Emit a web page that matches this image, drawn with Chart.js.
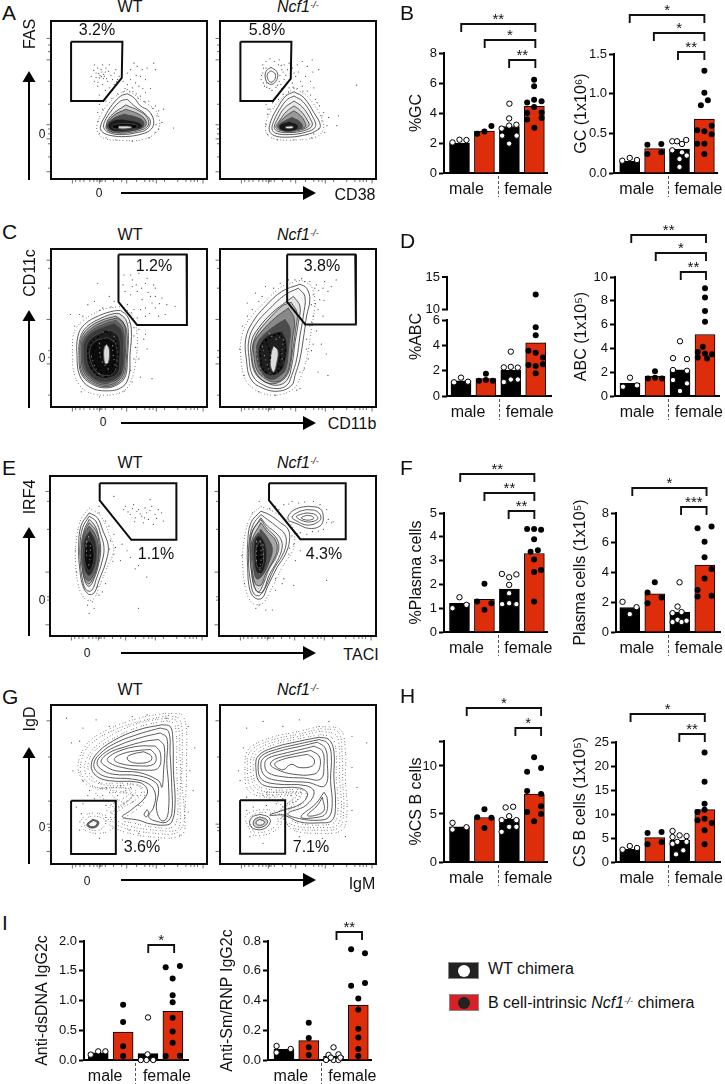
<!DOCTYPE html>
<html><head><meta charset="utf-8">
<script src="https://cdn.jsdelivr.net/npm/chart.js@4"></script>
<style>
html,body{margin:0;padding:0;background:#fff;overflow:hidden}
#page{position:relative;width:725px;height:1084px;font-family:"Liberation Sans",Arial,sans-serif;color:#111}
canvas{position:absolute}
.t{position:absolute;white-space:nowrap;line-height:1;transform:translate(-50%,-50%)}
.l{position:absolute;white-space:nowrap;line-height:1;font-size:21px}
sup{font-size:60%;line-height:0;vertical-align:baseline;position:relative;top:-.45em}
svg{position:absolute;left:0;top:0}
</style></head><body><div id="page"><svg id="arrows" width="725" height="1084"></svg></div>
<script>
/* ---------- bar charts: data ---------- */
const groupLabels=['male','female'];
const gcPctBars=[2.0,2.8,3.1,4.45];
const gcPctWT=[[-.28,2.04],[0,2.22],[.28,2.2],[2,4.62],[1.99,3.64],[1.69,2.96],[1.99,3.16],[2.28,3.22],[1.71,2.49],[2.29,2.49],[1.99,1.96]];
const gcPctKO=[[.71,2.62],[1,2.76],[1.28,3.13],[2.99,6.22],[2.99,5.78],[2.99,4.89],[3.29,4.78],[2.71,4.7],[2.71,3.56],[2.99,4.4],[3.29,4.04],[3.29,3.67],[2.71,4.0],[3,3.02]];
const gcPctBrackets=[[0.07,3.04,9.96,'**'],[1.01,3.04,8.84,'*'],[1.99,3.04,7.56,'**']];
const gcNumBars=[.147,.307,.30,.68];
const gcNumWT=[[-.3,.155],[0,.19],[.29,.164],[1.71,.4],[1.9,.4],[2.27,.416],[2.1,.366],[1.71,.286],[2.1,.26],[2,.176],[2,.076],[2.29,.22]];
const gcNumKO=[[.71,.357],[1.27,.366],[.71,.24],[1.27,.26],[3,1.29],[3,1.01],[3.14,.916],[2.86,.853],[2.71,.538],[3.29,.597],[3,.525],[3.29,.49],[2.71,.37],[3,.37],[3,.24]];
const gcNumBrackets=[[0,3,1.987,'*'],[.97,3,1.76,'*'],[1.94,3,1.525,'**']];
const abcPctBars=[1.2,1.37,2.03,4.2];
const abcPctWT=[[-.28,1.08],[0,1.45],[.28,1.13],[2,3.5],[1.72,2.26],[2,2.3],[2.28,2.24],[1.72,1.1],[2,1.3],[2.28,1.3]];
const abcPctKO=[[.72,1.2],[1,1.76],[1,1.26],[1.28,1.2],[3,5.42],[3,4.79],[2.71,3.58],[3,3.42],[3.29,3.03],[2.71,2.45],[3,2.37],[3.29,2.5],[3,1.79]];
const abcPctKOUpper=[[3,12.3]];
const abcNumBars=[1.06,1.68,2.2,5.17];
const abcNumWT=[[-.28,.78],[0,1.54],[.28,.89],[2,4.6],[1.72,3.18],[2.28,3.1],[1.72,2.18],[1.72,1.34],[2.28,2.12],[2.28,1.06],[2,.42]];
const abcNumKO=[[.72,1.48],[1,2.07],[1,1.54],[1.28,1.48],[3,9.05],[3,8.27],[3,7.15],[3,6.23],[2.91,4.13],[2.71,3.7],[3,3.58],[3.28,3.5],[2.71,3.24],[3.08,3.16]];
const abcNumBrackets=[[.05,3.04,13.5,'**'],[1.03,3.04,12.0,'*'],[2.03,3.04,10.42,'**']];
const pcPctBars=[1.2,1.37,1.8,3.3];
const pcPctWT=[[-.28,1],[0,1.46],[.28,1.14],[1.7,2.44],[2.28,2.42],[1.99,2.3],[1.99,1.98],[1.71,1.17],[1.99,1.21],[2.28,1.17],[1.99,1.63]];
const pcPctKO=[[.71,1.28],[1,2.03],[1,.93],[1.28,1.21],[2.71,4.33],[2.99,4.33],[3.27,4.3],[2.99,3.9],[3.14,3.44],[2.85,3.37],[2.99,3.05],[3.27,2.6],[2.99,2.52],[2.99,1.28]];
const pcPctBrackets=[[.03,3,6.62,'**'],[1,3,5.86,'**'],[1.97,3,5.08,'**']];
const pcNumBars=[1.65,2.56,1.34,4.5];
const pcNumWT=[[-.29,2.03],[0,1.2],[.27,1.67],[1.99,3.34],[1.91,1.71],[1.71,1.27],[2.07,1.34],[1.71,.67],[1.91,.82],[2.07,.67],[2.27,.76]];
const pcNumKO=[[.71,2.65],[1,3.34],[.71,1.94],[1.27,2.32],[2.71,6.97],[3.27,7.1],[2.99,6.06],[2.99,5.03],[2.99,3.6],[3.27,4.23],[2.71,2.83],[2.71,2.38],[3.27,2.43]];
const pcNumBrackets=[[.1,3.07,9.69,'*'],[2.05,3.07,8.4,'***']];
const csPctBars=[3.66,4.63,4.46,7.07];
const csPctWT=[[-.28,4.08],[-.28,3.38],[.28,3.62],[1.85,5.68],[2.15,5.75],[1.99,4.77],[1.69,4.36],[2.28,4.36],[1.69,3.14],[1.99,3.66],[2.28,3.66]];
const csPctKO=[[.71,4.67],[1,5.5],[1.28,4.6],[1,3.55],[2.99,10.9],[2.71,9.4],[3.27,9.8],[2.71,7.4],[3.27,7.07],[3.27,5.8],[2.71,5.2],[3.27,5],[2.99,4.25]];
const csPctBrackets=[[.29,3.27,16.03,'*'],[2.24,3.27,13.97,'*']];
const csNumBars=[2.64,5.07,4.5,10.9];
const csNumWT=[[-.29,2.57],[0,3.33],[.29,2.92],[1.71,6.46],[1.71,5.2],[1.99,5.55],[2.27,5.4],[1.71,3.8],[1.9,4.2],[2.27,4.2],[2.14,2.43],[1.85,1.6]];
const csNumKO=[[.71,6.04],[1.27,6.25],[.71,3.68],[1.27,4.17],[2.99,22.8],[2.99,16.7],[2.99,12.15],[2.71,10.4],[2.99,10.9],[2.71,8.7],[2.99,9],[3.28,8.1],[2.99,6.6],[2.99,3.68]];
const csNumBrackets=[[.03,3,30.9,'*'],[1.98,3,26.7,'**']];
const dsdnaBars=[.12,.47,.106,.82];
const dsdnaWT=[[-.3,.09],[0,.145],[.29,.145],[2,.715],[1.71,0],[1.98,.095],[1.94,0],[2.21,0]];
const dsdnaKO=[[1,.93],[1,.64],[1,.23],[1,.067],[2.71,1.56],[3.28,1.58],[2.99,1.37],[2.99,1.09],[2.99,.97],[2.99,.71],[2.99,.48],[2.99,.29],[2.71,.067],[3.28,.073]];
const dsdnaBrackets=[[2.01,3.05,1.94,'*']];
const smrnpBars=[.072,.13,.027,.37];
const smrnpWT=[[-.3,.094],[-.3,.05],[.27,.074],[2,.085],[1.8,.034],[2.2,.038],[1.7,0],[2,0],[2.2,0],[1.89,.016],[2.28,.016]];
const smrnpKO=[[1,.25],[1,.148],[1,.085],[1,.034],[2.71,.744],[3.27,.717],[3.27,.518],[2.71,.5],[3,.413],[3,.34],[3,.21],[3,.152],[3,.074],[3,.027]];
const smrnpBrackets=[[2.12,3.15,.863,'**']];

/* ---------- flow plots: data (channel units) ---------- */
const fasWtGate=[214,120,370,120,368,230,312,300,216,300,214,120];
const fasWtRings=[[385,278,405,290,425,315,450,330,465,360,458,385,430,400,380,408,335,405,310,395,303,380,315,350,340,310,365,285,385,278],
[385,295,410,318,440,340,455,362,445,385,415,396,370,402,335,398,315,385,315,365,340,325,365,300,385,295],
[380,312,420,330,445,350,448,375,420,390,370,398,330,392,320,378,335,345,380,312],
[380,325,420,340,440,358,440,376,410,388,365,395,330,390,322,375,342,345,380,325],
[375,340,420,352,435,365,430,380,400,390,360,392,330,385,325,372,345,352,375,340],
[370,355,420,365,430,378,400,388,355,392,330,385,328,370,345,358,370,355],
[370,368,410,372,415,380,395,385,355,385,338,380,345,372,370,368],
[358,376,395,377,398,382,360,384,358,376]];
const fasWtShades=[0,.04,.12,.3,.5,.65,.75,-.85];
const fasWtDots=[285,190,295,200,310,190,275,225,290,215,305,205,320,200,330,190,345,215,300,230,315,225,325,240,340,235,350,205,285,240,295,255,310,250,330,260,345,250,355,235,360,225,372,240,385,250,400,260,395,235,410,245,420,255,405,185,415,195,430,205,445,200,465,185,470,205,425,225,440,235,385,215,395,205,450,300,470,315,480,330,475,345,490,365,480,385,495,325,470,395,525,382,440,275,425,285,300,310,310,325,295,335,320,300,302,222,312,232,318,212,290,228,308,212,378,262,392,272,412,278,432,262,455,262,298,216,306,226,313,219,322,232,296,243,335,222,328,210,283,207,352,242,340,268,318,268,300,282,412,222,402,272,418,292,438,302,462,322,458,342,472,372,452,412,400,422,350,418,320,412,300,398,296,362,338,292,355,278,372,272];
const fasWtHalos=[[385,265,425,295,475,335,480,385,440,415,370,420,310,412,292,385,305,340,345,290,385,265]];
const fasKoGate=[722,120,877,120,875,232,821,300,723,300,722,120];
const fasKoRings=[[815,198,832,210,835,228,822,248,805,245,797,225,802,207,815,198],[815,208,828,218,826,235,815,243,806,235,804,218,815,208],
[885,272,915,290,945,335,965,375,950,392,910,405,860,410,825,405,810,390,815,360,835,320,860,285,885,272],
[885,285,912,302,940,345,950,378,920,395,870,402,830,398,818,385,825,358,845,320,865,295,885,285],
[885,300,910,318,932,350,940,375,915,390,870,396,835,392,825,380,835,355,855,322,885,300],
[885,315,905,330,925,358,930,375,905,388,870,392,838,388,830,378,842,358,862,332,885,315],
[885,330,905,345,918,365,920,378,900,385,870,390,840,385,835,375,850,355,868,340,885,330],
[880,350,905,365,910,380,890,388,860,390,840,382,840,372,858,360,880,350],
[870,362,895,372,895,385,865,392,842,385,842,372,870,362],
[860,377,882,377,880,383,860,383,860,377]];
const fasKoShades=[0,0,0,.03,.06,.12,.25,.5,.7,-.9];
const fasKoDots=[790,190,800,180,812,172,825,180,840,175,855,190,865,205,790,215,785,235,795,255,810,262,830,258,845,250,855,235,848,205,842,222,860,222,870,185,880,200,895,190,910,180,925,195,940,175,960,205,890,225,905,240,920,225,935,240,880,245,895,262,910,255,925,270,945,260,950,295,962,315,975,335,990,350,985,375,1020,345,1015,375,1075,252,800,310,812,325,805,340,820,305,960,385,970,360,945,400,800,200,802,245,848,262,870,260,885,215,792,200,786,222,838,190,846,192,852,212,840,240,835,252,818,268,802,258,792,245,868,272,882,258,912,270,935,282,955,305,970,345,978,395,938,412,885,418,835,418,805,402,800,372,806,325,838,295,852,280,898,212,942,212];
const fasKoHalos=[[885,260,930,290,975,370,960,405,900,418,825,415,800,395,805,350,840,300,885,260]];
const cdWtGate=[358,113,565,113,566,327,415,327,358,257,358,113];
const cdWtRings=[[365,283,385,300,397,340,393,420,390,480,370,515,320,527,270,515,240,480,232,420,235,360,255,325,300,298,345,284,365,283],
[360,292,380,310,388,350,385,430,380,480,360,505,320,518,275,505,245,475,238,420,242,365,262,332,305,306,345,292,360,292],
[350,300,372,318,384,355,382,430,376,478,356,503,320,514,278,502,248,473,241,420,245,368,266,337,308,312,350,300],
[355,305,375,325,380,360,378,430,372,475,352,500,320,510,280,498,252,470,245,420,248,372,270,342,310,318,355,305],
[350,313,370,335,376,380,373,450,360,487,335,500,318,505,283,494,256,466,248,418,252,374,274,346,312,325,350,313],
[345,322,368,345,372,400,368,470,345,492,318,500,285,490,260,462,252,415,256,375,278,350,315,332,345,322],
[335,342,360,365,362,440,358,470,340,485,315,490,290,480,268,455,260,410,265,380,285,360,315,348,335,342],
[325,365,350,385,352,450,340,475,315,480,290,468,275,440,270,405,285,378,325,365],
[322,385,330,400,328,440,318,445,313,420,315,395,322,385]];
const cdWtShades=[0,.12,.18,.25,.3,.4,.5,.55,-.85];
const cdWtDots=[375,175,400,190,420,170,440,200,415,225,395,235,385,265,405,280,430,250,455,240,470,215,490,245,505,265,470,275,530,270,440,300,480,300,295,200,265,265,285,255,240,295,212,295,330,240,310,275,345,255,420,340,405,360,435,370,410,395,445,400,420,430,395,465,460,490,425,485,440,355,400,210,378,225,372,205,445,185,460,260,415,305,440,275,390,320,470,240,500,295,395,175,412,205,428,215,448,228,465,205,482,262,425,280,452,292,398,290,405,335,225,330,250,300,300,282,335,272,405,430,400,500,375,528,300,545,245,530];
const cdWtHalos=[[370,270,400,300,415,360,410,440,395,500,370,530,310,540,255,525,225,480,218,400,225,345,255,310,310,280,370,270]];
const cdWtDark=[[320,345,350,375,355,440,340,470,310,485,280,465,265,420,272,385,300,360,320,345],[310,370,335,385,345,430,335,460,310,470,290,450,280,415,290,385,310,370]];
const cdWtLight=[[300,380,305,430,330,465],[345,360,340,400,348,450],[275,420,295,470,320,490]];
const cdKoGate=[866,113,1073,113,1075,325,921,325,866,257,866,113];
const cdKoRings=[[905,203,925,215,935,250,925,300,918,350,905,430,890,480,880,510,840,528,790,518,755,490,742,430,740,370,760,320,800,270,850,225,905,203],
[900,215,920,240,915,300,905,360,895,430,880,480,865,510,835,520,795,510,762,482,750,425,750,370,770,325,810,280,860,235,900,215],
[885,240,905,270,900,320,890,380,880,450,865,495,835,510,800,500,770,475,757,425,758,375,780,335,820,290,865,255,885,240],
[878,258,896,290,891,345,882,410,870,470,848,497,815,505,785,490,763,450,760,400,772,358,805,315,850,270,878,258],
[870,275,888,310,882,370,875,440,858,485,830,500,800,490,775,465,765,420,766,380,790,345,830,305,870,275],
[860,310,875,340,870,400,862,460,845,480,820,492,795,480,778,450,772,410,778,378,800,352,835,325,860,310],
[850,345,865,380,860,440,845,470,815,480,790,465,780,430,782,390,805,360,850,345],
[825,390,838,405,835,440,825,470,815,450,818,410,825,390]];
const cdKoShades=[0,.03,.08,.15,.3,.45,.6,-.85];
const cdKoDots=[800,210,770,230,780,255,825,215,845,200,870,190,910,185,935,195,955,205,980,195,1015,190,945,235,965,250,990,225,960,280,945,300,935,330,925,370,945,385,970,385,985,415,930,430,960,470,990,480,905,470,905,520,760,280,745,300,730,330,940,265,975,300,950,215,925,400,890,190,1000,210,920,195,962,222,975,215,952,262,978,252,940,318,955,345,940,405,918,460,895,525,830,540,780,530,735,480,722,400,745,260,790,240];
const cdKoHalos=[[910,190,940,210,950,260,940,340,925,430,905,490,880,525,830,540,780,530,740,495,725,420,728,360,750,310,800,255,850,210,910,190]];
const cdKoDark=[[840,350,860,390,850,450,825,475,795,465,785,420,790,385,840,350],[800,370,815,420,805,460],[850,395,842,440,835,470]];
const cdKoLight=[[790,390,800,430,815,475],[855,370,850,420,858,455],[770,400,778,440,795,490],[810,350,830,370,850,360]];
const irfWtGate=[302,95,535,95,535,267,398,267,302,147,302,95];
const irfWtRings=[[270,185,295,200,312,240,328,285,322,330,300,390,285,428,268,432,250,405,240,340,238,290,245,225,270,185],
[270,195,290,210,305,250,315,290,310,330,292,385,278,420,262,420,250,390,243,330,242,285,250,230,270,195],
[270,205,288,225,300,260,305,295,300,335,285,385,270,408,258,395,248,345,246,285,254,240,270,205],
[270,215,290,238,300,275,300,320,288,370,270,400,256,385,248,335,247,285,256,242,270,215],
[270,225,288,250,298,290,295,340,280,380,268,392,256,375,250,330,250,280,258,245,270,225],
[272,240,288,270,292,320,280,365,268,375,256,355,252,310,256,265,272,240],
[270,262,283,290,283,335,270,360,258,340,256,295,270,262]];
const irfWtShades=[0,.04,.1,.2,.4,.6,.7];
const irfWtDots=[380,165,405,160,420,175,440,170,460,165,480,175,395,190,410,200,430,195,450,205,470,190,490,185,495,210,435,215,415,180,445,185,465,220,375,175,345,135,300,165,330,225,345,250,335,270,350,290,370,280,385,300,345,310,365,330,395,320,420,345,445,380,410,355,300,435,280,455,265,465,285,475,270,490,420,475,295,410,320,400,310,425,455,145,402,172,425,188,438,200,455,178,475,202,408,212,388,182,332,295,342,332,228,300,232,365,300,185,320,210];
const irfWtHalos=[[270,170,305,195,335,260,345,300,325,350,300,410,285,445,262,450,240,415,228,330,232,260,245,205,270,170]];
const irfWtDark=[];
const irfWtLight=[[268,255,274,300,268,350],[262,270,262,320]];
const irfKoGate=[810,95,1043,95,1043,265,905,265,810,147,810,95];
const irfKoRings=[[785,180,810,190,845,215,868,235,872,270,860,310,835,350,805,410,790,443,770,445,752,420,745,350,745,280,755,215,785,180],
[785,190,805,205,835,228,858,250,862,280,850,315,825,355,800,410,782,435,765,432,755,400,748,340,750,270,762,220,785,190],
[785,200,805,225,830,245,848,270,848,300,830,340,810,375,790,425,770,420,758,370,752,310,756,250,785,200],
[785,205,806,235,830,258,840,285,832,318,810,355,795,395,778,425,764,405,755,345,754,285,760,240,785,205],
[785,215,808,245,828,265,835,295,820,335,800,370,785,405,768,400,758,340,758,270,785,215],
[785,235,808,265,820,295,810,335,790,375,772,385,762,340,760,275,785,235],
[782,250,800,285,800,340,785,370,770,360,764,310,768,265,782,250],
[782,270,792,300,790,345,775,350,770,300,782,270],
[930,165,965,172,975,200,965,225,930,232,895,218,868,205,875,185,900,170,930,165],
[925,175,955,180,968,200,955,215,925,222,895,210,880,198,900,182,925,175],
[925,185,950,190,958,203,940,212,915,210,893,197,905,190,925,185],
[925,192,942,196,945,203,925,207,908,200,925,192]];
const irfKoShades=[0,.02,.04,.08,.25,.5,.65,.7,0,0,0,0];
const irfKoDots=[830,165,855,160,880,150,900,155,945,150,985,175,1000,215,985,215,960,240,925,250,905,245,880,255,885,280,870,310,905,300,890,330,855,385,830,385,850,400,885,405,830,420,780,465,770,475,800,480,820,480,985,390,780,150,760,185,840,175,965,160,975,235,870,158,918,152,990,205,1005,212,942,242,895,248,872,292,728,315,735,400,812,172];
const irfKoHalos=[[785,165,830,185,880,225,885,290,850,350,815,420,790,460,760,460,740,420,730,340,735,260,755,195,785,165]];
const irfKoDark=[];
const irfKoLight=[[780,240,786,310,780,375],[772,270,772,340],[792,280,792,330]];
const igdWtGate=[214,391,350,391,350,553,214,553,214,391];
const igdWtRings=[[490,160,515,165,523,200,525,300,530,400,520,455,500,465,450,460,420,450,370,440,395,420,440,380,445,355,420,335,330,330,290,315,275,285,290,250,340,210,420,175,490,160],
[485,170,510,180,515,250,520,350,520,430,505,455,480,455,450,440,465,410,470,370,450,340,400,325,330,320,295,305,283,280,300,250,350,215,430,185,485,170],
[485,185,505,200,505,280,510,340,510,420,500,450,485,448,473,410,480,360,470,335,420,315,340,310,305,295,293,275,310,250,360,222,430,198,485,185],
[480,205,497,225,495,300,490,350,480,330,420,305,350,300,318,285,305,270,330,245,375,228,440,210,480,205],
[470,225,485,245,480,290,440,298,370,290,330,275,325,262,360,240,420,225,470,225],
[455,235,472,255,465,280,420,285,365,278,345,265,370,248,420,238,455,235],
[435,242,458,255,455,270,420,277,390,270,385,258,405,248,435,242],
[445,418,450,428,442,440,436,432,445,418],
[280,447,298,455,292,470,272,473,262,463,280,447],[282,451,293,457,288,467,274,469,267,462,282,451]];
const igdWtShades=[0,0,0,0,0,0,0,0,.6,-.95];
const igdWtHalos=[[500,140,535,150,545,250,545,400,540,475,490,482,380,465,345,440,360,420,425,375,420,345,330,345,270,325,255,285,280,235,340,190,420,155,500,140],
[500,125,555,135,565,260,560,420,550,495,450,500,360,480,320,450,330,410,390,370,340,360,260,340,235,285,265,215,335,170,420,140,500,125],
[505,148,530,160,535,300,538,430,525,470,470,472,400,458,370,450,410,420,435,395,430,350,380,338,310,338,278,320,265,285,285,240,345,200,425,165,505,148],
[510,132,545,145,552,240,550,330,558,450,535,488,470,490,370,472,335,445,350,415,400,378,380,352,290,350,245,310,248,260,270,222,335,180,430,148,510,132],
[300,352,360,352,410,360,395,385,350,415,330,395,290,370,300,352],
[330,365,400,372,375,395,345,380,330,365],
[240,455,262,432,300,430,330,450,340,475,300,490,255,480,240,455],
[252,458,268,440,300,440,320,455,300,480,262,475,252,458]];
const igdWtDots=[200,140,250,170,215,215,290,145,330,165,400,135,445,130,505,140,570,165,590,230,575,300,585,360,570,425,545,495,480,510,420,490,370,510,390,480,245,430,230,410,250,400,320,405,335,425,240,480,300,505,270,360,250,330,220,300,240,210,355,375,380,360,400,395,375,400,420,405,345,395,310,375,285,385,265,375,415,375,395,350,365,345,320,350];
const igdKoGate=[720,389,857,389,857,552,720,552,720,389];
const igdKoRings=[[960,198,990,205,1005,240,1005,320,1010,400,1000,450,960,458,900,455,855,435,810,435,850,420,905,400,925,370,900,352,820,350,780,335,768,290,775,255,820,230,900,210,960,198],
[960,205,985,215,997,250,995,330,1000,400,990,440,960,450,900,445,865,430,920,405,945,365,920,345,830,340,785,325,775,285,785,255,830,235,900,218,960,205],
[955,213,978,230,985,270,978,345,925,335,840,330,795,315,783,280,795,258,840,240,905,225,955,213],
[945,225,970,240,975,280,965,325,915,322,850,318,805,305,795,280,805,262,850,248,905,235,945,225],
[935,238,960,255,962,290,945,310,880,310,830,295,812,280,825,265,870,252,935,238],
[925,250,945,265,940,285,900,290,875,280,850,297,825,280,850,265,895,255,925,250],
[975,365,985,385,980,430,950,442,905,440,950,400,975,365],[970,380,975,420,950,435,925,435,955,405,970,380],
[780,432,805,440,812,455,795,475,768,478,750,465,755,442,780,432],[780,440,800,447,803,458,790,470,770,472,760,462,765,447,780,440],[780,448,793,453,793,460,782,465,770,462,770,453,780,448]];
const igdKoShades=[0,0,0,0,0,0,0,0,0,.2,-.7];
const igdKoHalos=[[960,180,1010,190,1022,240,1022,320,1028,410,1015,465,960,472,890,468,850,445,840,420,900,385,905,365,815,365,765,350,752,290,760,245,815,215,900,195,960,180],
[960,165,1025,175,1040,240,1040,330,1045,420,1030,480,950,490,880,480,860,455,850,415,880,385,880,375,800,380,745,360,735,290,745,235,810,200,900,180,960,165],
[965,190,1000,200,1012,245,1012,320,1018,400,1008,455,960,465,900,460,870,445,860,425,915,395,915,360,820,358,770,342,760,290,768,250,818,222,900,202,965,190],
[965,172,1018,182,1030,250,1032,340,1035,415,1022,472,955,480,880,474,855,450,845,418,890,380,890,370,805,372,755,355,742,290,752,240,812,208,900,188,965,172],
[800,365,860,365,900,370,885,400,860,415,835,395,810,385,800,365],
[745,470,735,440,770,420,830,425,845,460,810,490,760,495,745,470],
[755,470,748,445,775,428,825,432,835,458,805,482,765,487,755,470]];
const igdKoDots=[740,170,790,150,850,165,900,145,990,150,1060,195,1105,215,1060,290,1075,350,1060,420,1040,500,970,505,900,500,760,410,740,420,800,405,830,400,750,500,790,520,740,380,720,330,715,300,730,230,875,375,905,365,880,395,850,385,820,375,790,375];
const xTicksChan=[65,75,88,100,118,130,140,147,150,155,165,190,215,230,260,285,300,310,320,345,385,410,425,435,445,462];
const xTicksMajor=[65,147,230,320,462];
const yTicksA=[53,73,93,118,183,253,315,328,343,358,373,413,458];
const yTicksC=[34,59,119,214,309,329,349,444];
const yTicksE=[47,77,162,292,367,377,452];
const yTicksG=[48,158,292,362,372,382,445];

/* ---------- helpers ---------- */
const page=document.getElementById('page');
const RED='#dd2d0b';
const SPECKLE=[[.8,1.9,.8,3.1,.8,2.3],[.8,2.7,.8,1.6,.8,3.7],[.8,1.5,.8,2.4,.8,4.1],[.8,3.3,.8,2.1,.8,1.7]];
function xy(a){return a.map(p=>({x:p[0],y:p[1]}));}
function flat(a){const o=[];for(let i=0;i<a.length;i+=2)o.push({x:a[i],y:a[i+1]});return o;}
function addCanvas(l,t,w,h){const c=document.createElement('canvas');c.width=w;c.height=h;c.style.left=l+'px';c.style.top=t+'px';c.style.width=w+'px';c.style.height=h+'px';page.appendChild(c);return c;}
function txt(s,x,y,size,extra){const d=document.createElement('div');d.className='t';d.innerHTML=s;d.style.left=x+'px';d.style.top=y+'px';d.style.fontSize=(size||16)+'px';if(extra)d.style.transform=extra;page.appendChild(d);}

const ringFill={id:'ringFill',beforeDatasetDraw(chart,args){
  const ds=chart.data.datasets[args.index];if(!ds.ringShade)return;
  const meta=args.meta,ctx=chart.ctx;meta.dataset.updateControlPoints(chart.chartArea);
  ctx.save();ctx.beginPath();meta.dataset.path(ctx);ctx.closePath();
  ctx.fillStyle=ds.ringShade>0?`rgba(0,0,0,${ds.ringShade})`:`rgba(255,255,255,${-ds.ringShade})`;ctx.fill();ctx.restore();
}};
const flowFrame={id:'flowFrame',afterDatasetsDraw(chart,a,o){
  const {ctx,chartArea:c,scales:{x,y}}=chart;ctx.save();
  ctx.strokeStyle='#333';ctx.lineWidth=.7;ctx.beginPath();
  o.xTicks.forEach(t=>{const p=x.getPixelForValue(x.min+t),len=o.xMajor.includes(t)?3.5:2;ctx.moveTo(p,c.bottom);ctx.lineTo(p,c.bottom+len+1);});
  o.yTicks.forEach((t,i)=>{const p=y.getPixelForValue(y.min+t),len=i%3==0?3.5:2;ctx.moveTo(c.left,p);ctx.lineTo(c.left-len-1,p);});
  ctx.stroke();ctx.strokeStyle='#0c0c0c';ctx.lineWidth=2;ctx.strokeRect(c.left,c.top,c.right-c.left,c.bottom-c.top);ctx.restore();
}};
function flowChart(l,t,w,h,x0,y0,gate,rings,shades,dots,halos,yTicks,dark,light){
  const c=addCanvas(l-8,t-2,w+10,h+10);const ds=[];
  (halos||[]).forEach((r,i)=>ds.push({type:'scatter',showLine:true,tension:.35,data:flat(r),pointRadius:0,borderColor:'#333',borderWidth:.8,borderDash:SPECKLE[i%4],order:300-i}));
  ds.push({type:'scatter',data:flat(dots),pointRadius:.6,pointBorderWidth:0,backgroundColor:'#444',order:250});
  rings.forEach((r,i)=>ds.push({type:'scatter',showLine:true,tension:.4,data:flat(r),pointRadius:0,borderColor:'#4a4a4a',borderWidth:.9,ringShade:shades[i],order:200-i}));
  (dark||[]).forEach((r,i)=>ds.push({type:'scatter',showLine:true,tension:.4,data:flat(r),pointRadius:0,borderColor:'rgba(0,0,0,.85)',borderWidth:1.6,borderDash:[2.5,2,1.5,3],order:50-i}));
  (light||[]).forEach((r,i)=>ds.push({type:'scatter',showLine:true,tension:.4,data:flat(r),pointRadius:0,borderColor:'rgba(200,200,200,.6)',borderWidth:1.1,borderDash:[1.5,3,1,4],order:30-i}));
  ds.push({type:'scatter',showLine:true,tension:0,data:flat(gate),pointRadius:0,borderColor:'#0c0c0c',borderWidth:2,order:1});
  new Chart(c,{type:'scatter',data:{datasets:ds},plugins:[ringFill,flowFrame],options:{responsive:false,animation:false,devicePixelRatio:1,
    layout:{padding:{left:8,top:2,right:2,bottom:8}},
    scales:{x:{type:'linear',display:false,min:x0,max:x0+w*3},y:{type:'linear',display:false,min:y0,max:y0+h*3,reverse:true}},
    plugins:{legend:{display:false},tooltip:{enabled:false},flowFrame:{xTicks:xTicksChan,xMajor:xTicksMajor,yTicks:yTicks}}}});
}
const barExtras={id:'barExtras',afterDatasetsDraw(chart,a,o){
  const {ctx,chartArea:c,scales:{x,y}}=chart;ctx.save();
  ctx.strokeStyle='#555';ctx.lineWidth=1;ctx.setLineDash([3,2]);ctx.beginPath();
  const dx=Math.round(x.getPixelForValue(o.divider))+.5;ctx.moveTo(dx,c.bottom+3);ctx.lineTo(dx,c.bottom+24);ctx.stroke();ctx.setLineDash([]);
  ctx.strokeStyle='#111';ctx.lineWidth=1.9;ctx.fillStyle='#111';ctx.font='15px "Liberation Sans"';ctx.textAlign='center';ctx.textBaseline='middle';
  (o.brackets||[]).forEach(b=>{const x1=x.getPixelForValue(b[0]),x2=x.getPixelForValue(b[1]),py=Math.round(y.getPixelForValue(b[2]));
    ctx.beginPath();ctx.moveTo(x1,py+8);ctx.lineTo(x1,py);ctx.lineTo(x2,py);ctx.lineTo(x2,py+8);ctx.stroke();
    ctx.fillText(b[3],(x1+x2)/2,py-4);});
  if(o.brk){const u=chart.scales.yUp;ctx.lineWidth=2;ctx.strokeStyle='#000';ctx.font='13px "Liberation Sans"';ctx.textAlign='right';
    const ax=c.left;ctx.beginPath();ctx.moveTo(ax,y.getPixelForValue(0));ctx.lineTo(ax,y.getPixelForValue(6)-1);
    ctx.moveTo(ax,u.getPixelForValue(10)+1);ctx.lineTo(ax,u.getPixelForValue(15)-1);
    [10,15].forEach(v=>{const p=u.getPixelForValue(v);ctx.moveTo(ax,p);ctx.lineTo(ax-5,p);});ctx.stroke();
    ctx.fillStyle='#111';[10,15].forEach(v=>ctx.fillText(v,ax-7,u.getPixelForValue(v)));}
  ctx.restore();
}};
function barChart(cfg){
  const left=cfg.titleX-10,canvasTop=cfg.canvasTop,right=cfg.axisX+104;
  const c=addCanvas(left,canvasTop,right+14-left,cfg.bottom+30-canvasTop);
  const dsBars={type:'bar',data:cfg.bars.map((v,i)=>({x:i,y:v})),backgroundColor:['#000',RED,'#000',RED],borderColor:'#000',borderWidth:1,barThickness:20,grouped:false,order:3};
  const dot=(d,fill,axis)=>({type:'scatter',data:xy(d),pointRadius:fill==='#000'?3:2.7,pointBorderWidth:fill==='#000'?0:1,pointBackgroundColor:fill,pointBorderColor:'#000',clip:false,order:1,yAxisID:axis||'y'});
  const ds=[dsBars,dot(cfg.wt,'#fff'),dot(cfg.ko,'#000')];
  if(cfg.koUpper)ds.push(dot(cfg.koUpper,'#000','yUp'));
  const scales={
    x:{type:'linear',min:-cfg.off/cfg.step,max:(104-cfg.off)/cfg.step,offset:false,
      grid:{display:true,drawOnChartArea:false,drawTicks:false,offset:false},border:{display:true,color:'#000',width:2},
      afterBuildTicks(s){s.ticks=[{value:.28},{value:2.76}];},afterFit(s){s.height=30;},
      ticks:{callback:(v,i)=>groupLabels[i],font:{size:16,family:'"Liberation Sans"'},color:'#111',padding:cfg.xpad||7,autoSkip:false,maxRotation:0}},
    y:{type:'linear',min:0,max:cfg.max,
      grid:{drawOnChartArea:false,tickLength:5,tickWidth:2,tickColor:'#000'},border:{display:!cfg.brk,color:'#000',width:2},
      afterBuildTicks(s){s.ticks=cfg.ticks.map(v=>({value:v}));},afterFit(s){s.width=cfg.axisX-left;},
      ticks:{callback:v=>cfg.blank===v?'':v.toFixed(cfg.digits||0),font:{size:13,family:'"Liberation Sans"'},color:'#111',padding:2,autoSkip:false},
      title:{display:true,text:cfg.title,font:{size:16,family:'"Liberation Sans"'},color:'#111',padding:0}}};
  if(cfg.brk)scales.yUp={type:'linear',display:false,position:'left',min:cfg.upMin,max:15};
  new Chart(c,{type:'bar',data:{datasets:ds},plugins:[barExtras],options:{responsive:false,animation:false,devicePixelRatio:1,
    layout:{padding:{top:cfg.top-canvasTop,right:14,left:0,bottom:0}},scales,
    plugins:{legend:{display:false},tooltip:{enabled:false},barExtras:{divider:cfg.divider||1.53,brackets:cfg.brackets,brk:cfg.brk}}}});
}

/* ---------- bar panels ---------- */
barChart({titleX:417,axisX:444,off:15.5,step:25,canvasTop:4,top:53,bottom:173,max:8,ticks:[0,2,4,6,8],title:'%GC',bars:gcPctBars,wt:gcPctWT,ko:gcPctKO,brackets:gcPctBrackets});
barChart({titleX:582,axisX:614,off:15.8,step:25,canvasTop:4,top:54,bottom:173,max:1.5,ticks:[0,.5,1,1.5],digits:1,title:'GC (1x10\u2076)',bars:gcNumBars,wt:gcNumWT,ko:gcNumKO,brackets:gcNumBrackets});
barChart({titleX:417,axisX:447,off:14,step:24.9,canvasTop:260,top:277,bottom:396,max:119*6/76,ticks:[0,2,4,6],brk:true,upMin:15-119*5/32.6,title:'%ABC',bars:abcPctBars,wt:abcPctWT,ko:abcPctKO,koUpper:abcPctKOUpper});
barChart({titleX:582,axisX:615,off:15,step:25,canvasTop:220,top:277,bottom:396,max:10,ticks:[0,2,4,6,8,10],title:'ABC (1x10\u2075)',bars:abcNumBars,wt:abcNumWT,ko:abcNumKO,brackets:abcNumBrackets});
barChart({titleX:417,axisX:444,off:15.5,step:25,canvasTop:460,top:513,bottom:632,max:5,ticks:[0,1,2,3,4,5],title:'%Plasma cells',bars:pcPctBars,wt:pcPctWT,ko:pcPctKO,brackets:pcPctBrackets});
barChart({titleX:581,axisX:616,off:13.8,step:25,canvasTop:470,top:513,bottom:632,max:8,ticks:[0,2,4,6,8],title:'Plasma cells (1x10\u2075)',bars:pcNumBars,wt:pcNumWT,ko:pcNumKO,brackets:pcNumBrackets});
barChart({titleX:417,axisX:444,off:15.5,step:25,canvasTop:696,top:741,bottom:862,max:12.6,ticks:[0,5,10,12.6],blank:12.6,title:'%CS B cells',bars:csPctBars,wt:csPctWT,ko:csPctKO,brackets:csPctBrackets});
barChart({titleX:581,axisX:616,off:13.8,step:25,canvasTop:700,top:742,bottom:862,max:25,ticks:[0,5,10,15,20,25],title:'CS B cells (1x10\u2075)',bars:csNumBars,wt:csNumWT,ko:csNumKO,brackets:csNumBrackets});
barChart({titleX:43,axisX:84,off:14.2,step:24.9,canvasTop:925,top:941,bottom:1060,max:2,ticks:[0,.5,1,1.5,2],digits:1,title:'Anti-dsDNA IgG2c',bars:dsdnaBars,wt:dsdnaWT,ko:dsdnaKO,brackets:dsdnaBrackets,divider:1.49});
barChart({titleX:228,axisX:268,off:16,step:24.8,canvasTop:920,top:941,bottom:1060,max:.8,ticks:[0,.2,.4,.6,.8],digits:1,title:'Anti-Sm/RNP IgG2c',bars:smrnpBars,wt:smrnpWT,ko:smrnpKO,brackets:smrnpBrackets,divider:1.49});

/* ---------- flow panels ---------- */
flowChart(51,19,158,160,153,57,fasWtGate,fasWtRings,fasWtShades,fasWtDots,fasWtHalos,yTicksA);
flowChart(220,19,158,160,660,57,fasKoGate,fasKoRings,fasKoShades,fasKoDots,fasKoHalos,yTicksA);
flowChart(51,247,158,160,153,96,cdWtGate,cdWtRings,cdWtShades,cdWtDots,cdWtHalos,yTicksC,cdWtDark,cdWtLight);
flowChart(220,247,158,160,662,96,cdKoGate,cdKoRings,cdKoShades,cdKoDots,cdKoHalos,yTicksC,cdKoDark,cdKoLight);
flowChart(50,474,159,162,151,73,irfWtGate,irfWtRings,irfWtShades,irfWtDots,irfWtHalos,yTicksE,irfWtDark,irfWtLight);
flowChart(219,474,159,162,658,73,irfKoGate,irfKoRings,irfKoShades,irfKoDots,irfKoHalos,yTicksE,irfKoDark,irfKoLight);
flowChart(51,703,158,161,153,100,igdWtGate,igdWtRings,igdWtShades,igdWtDots,igdWtHalos,yTicksG);
flowChart(220,703,158,161,659,100,igdKoGate,igdKoRings,igdKoShades,igdKoDots,igdKoHalos,yTicksG);

/* ---------- text & arrows ---------- */
const KO='<i>Ncf1<sup>-/-</sup></i>';
[[7,'A'],[235,'C'],[463,'E'],[690,'G']].forEach(r=>{txt('WT',130,r[0],16);txt(KO,298,r[0],16);});
[['A',2,2],['C',2,221],['E',2,457],['G',2,686],['B',400,2],['D',400,230],['F',400,457],['H',400,685],['I',2,912]].forEach(r=>{
  const d=document.createElement('div');d.className='l';d.textContent=r[0];d.style.left=r[1]+'px';d.style.top=r[2]+'px';page.appendChild(d);});
[['3.2%',97,30],['5.8%',267,30],['1.2%',154,266],['3.8%',322,266],['1.1%',156,554],['4.3%',324,554],['3.6%',142,847],['7.1%',311,847]].forEach(r=>txt(r[0],r[1],r[2],16));
[['0',99,193],['0',42,134],['0',103,422],['0',42,358],['0',87,653],['0',42,600],['0',87,881],['0',42,827]].forEach(r=>txt(r[0],r[1],r[2],12));
[['FAS',30,34],['CD11c',30,273],['IRF4',30,497],['IgD',30,719]].forEach(r=>txt(r[0],r[1],r[2],16,'translate(-50%,-50%) rotate(-90deg)'));
[['CD38',355,195],['CD11b',352,424],['TACI',361,655],['IgM',362,884]].forEach(r=>txt(r[0],r[1],r[2],16));
let s='';
[[71,180],[310,408],[527,636],[747,864]].forEach(a=>{s+=`<line x1="29" y1="${a[1]}" x2="29" y2="${a[0]+8}" stroke="#000" stroke-width="2"/><polygon points="29,${a[0]} 22.5,${a[0]+11} 35.5,${a[0]+11}" fill="#000"/>`;});
[193,423,653,880].forEach(y=>{s+=`<line x1="121" y1="${y}" x2="306" y2="${y}" stroke="#000" stroke-width="2"/><polygon points="316,${y} 303,${y-7} 303,${y+7}" fill="#000"/>`;});
document.getElementById('arrows').innerHTML=s;

/* ---------- legend ---------- */
function swatch(l,t,w,h,bg,dot){const d=document.createElement('div');d.style.cssText=`position:absolute;left:${l}px;top:${t}px;width:${w}px;height:${h}px;background:${bg};box-sizing:border-box;border:1px solid #888`;
  const e=document.createElement('div');e.style.cssText=`position:absolute;left:50%;top:50%;width:12px;height:12px;margin:-6px 0 0 -6px;border-radius:50%;background:${dot}`;d.appendChild(e);page.appendChild(d);}
swatch(448,962,31,17,'#222','#fff');swatch(449,994,30,17,'#d92027','#222');
function leg(h,y){const d=document.createElement('div');d.className='l';d.style.fontSize='16px';d.innerHTML=h;d.style.left='488px';d.style.top=(y-8)+'px';page.appendChild(d);}
leg('WT chimera',969);leg('B cell-intrinsic <i>Ncf1<sup>-/-</sup></i> chimera',1003);
</script></body></html>
